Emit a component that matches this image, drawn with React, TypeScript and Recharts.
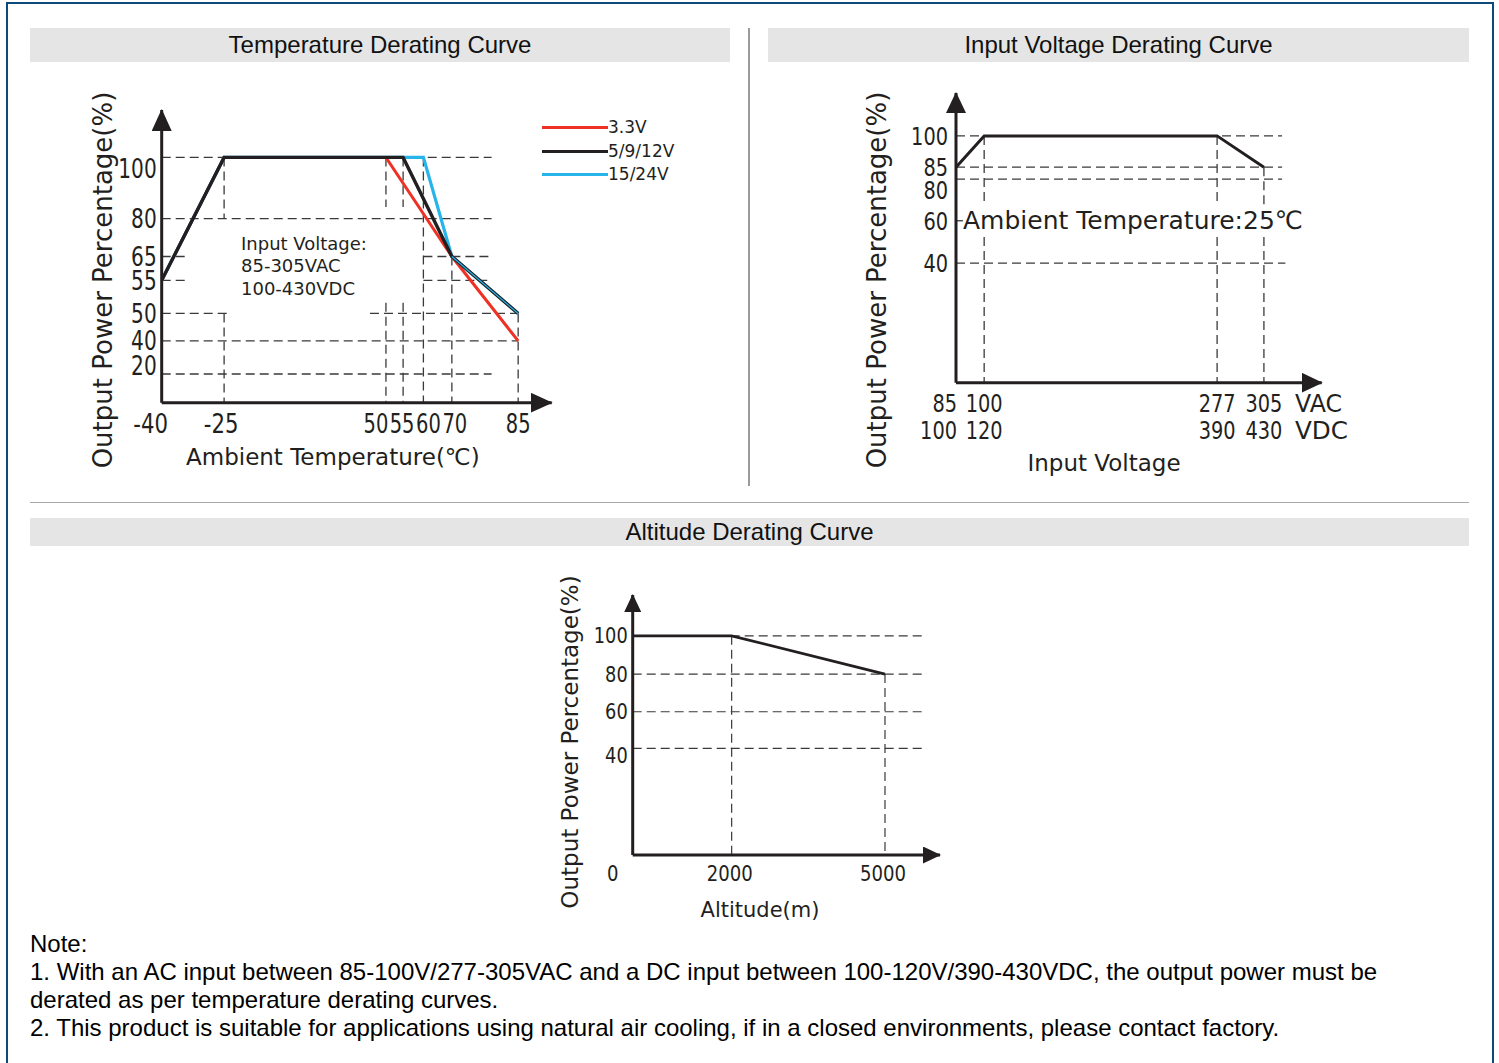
import React from 'react';
import { LineChart, Line, XAxis, YAxis, ReferenceLine, Legend } from 'recharts';

// ---------- temperature derating ----------
const tempTicksX = [-40, -25, 50, 55, 60, 70, 85];
const tempTicksY = [20, 40, 50, 55, 65, 80, 100];
const temp33V = [
  { t: -40, p: 55 },
  { t: -25, p: 100 },
  { t: 50, p: 100 },
  { t: 70, p: 65 },
  { t: 85, p: 40 },
];
const temp5912V = [
  { t: -40, p: 55 },
  { t: -25, p: 100 },
  { t: 55, p: 100 },
  { t: 70, p: 65 },
  { t: 85, p: 50 },
];
const temp1524V = [
  { t: -40, p: 55 },
  { t: -25, p: 100 },
  { t: 60, p: 100 },
  { t: 70, p: 65 },
  { t: 85, p: 50 },
];
// dashed guides, broken where the note text sits
const tempGuidesH = [
  { y: 100, spans: [[-40, 79]] },
  { y: 80, spans: [[-40, 79]] },
  { y: 65, spans: [[-40, -34], [60, 78.5]] },
  { y: 55, spans: [[-40, -34], [60, 78]] },
  { y: 50, spans: [[-40, -23.6], [42.6, 85]] },
  { y: 40, spans: [[-40, 85]] },
  { y: 20, spans: [[-40, 79]] },
];
const tempGuidesV = [
  { x: -25, spans: [[100, 80], [50, 0]] },
  { x: 50, spans: [[100, 83.8], [51.6, 0]] },
  { x: 55, spans: [[100, 83.8], [51.6, 0]] },
  { x: 60, spans: [[100, 0]] },
  { x: 70, spans: [[65, 0]] },
  { x: 85, spans: [[50, 0]] },
];
const tempNote = ['Input Voltage:', '85-305VAC', '100-430VDC'];

// ---------- input voltage derating ----------
const vacTicks = [85, 100, 277, 305];
const vdcTicks = [100, 120, 390, 430];
const voltTicksY = [40, 60, 80, 85, 100];
const voltCurve = [
  { v: 85, p: 85 },
  { v: 100, p: 100 },
  { v: 277, p: 100 },
  { v: 305, p: 85 },
];
const voltGuidesH = [
  { y: 100, spans: [[85, 316]] },
  { y: 85, spans: [[85, 316]] },
  { y: 80, spans: [[85, 316]] },
  { y: 60, spans: [[85, 88.7]] },
  { y: 40, spans: [[85, 318]] },
];
const voltGuidesV = [
  { x: 100, spans: [[100, 67.5], [52.3, 0]] },
  { x: 277, spans: [[100, 67.5], [52.3, 0]] },
  { x: 305, spans: [[85, 67.5], [52.3, 0]] },
];

// ---------- altitude derating ----------
const altTicksX = [0, 2000, 5000];
const altTicksY = [40, 60, 80, 100];
const altCurve = [
  { a: 0, p: 100 },
  { a: 2000, p: 100 },
  { a: 5000, p: 80 },
];
const altGuidesH = [
  { y: 100, spans: [[0, 5690]] },
  { y: 80, spans: [[0, 5690]] },
  { y: 60, spans: [[0, 5730]] },
  { y: 40, spans: [[0, 5730]] },
];
const altGuidesV = [
  { x: 2000, spans: [[100, 0]] },
  { x: 5000, spans: [[80, 0]] },
];

const notes = [
  'Note:',
  '1. With an AC input between 85-100V/277-305VAC and a DC input between 100-120V/390-430VDC, the output power must be',
  'derated as per temperature derating curves.',
  '2. This product is suitable for applications using natural air cooling, if in a closed environments, please contact factory.',
];

// ---------- styles ----------
const INK = '#231f20';
const RED = '#ee3124';
const CYAN = '#27b4ea';
const GUIDE = '#3a3a3a';
const FRAME = '#0d4a7c';
const SANS = "'Liberation Sans', Arial, sans-serif";
const GOTHIC = "'DejaVu Sans', 'Noto Sans', sans-serif";
const DASH = '9 5';

// the datasheet axes are schematic: each axis is a piecewise-linear scale
function knotScale(values: number[], stops: number[]) {
  let dom = [values[0], values[values.length - 1]];
  let rng = [0, 1];
  const frac = (v: number) => {
    const n = values.length;
    let i = 1;
    while (i < n - 1 && v > values[i]) i++;
    const t = (v - values[i - 1]) / (values[i] - values[i - 1]);
    return stops[i - 1] + t * (stops[i] - stops[i - 1]);
  };
  const scale: any = (v: number) => rng[0] + frac(Number(v)) * (rng[1] - rng[0]);
  scale.domain = (d?: number[]) => {
    if (!d) return dom.slice();
    dom = d.slice();
    return scale;
  };
  scale.range = (r?: number[]) => {
    if (!r) return rng.slice();
    rng = r.slice();
    return scale;
  };
  scale.rangeRound = (r: number[]) => scale.range(r);
  scale.copy = () => knotScale(values, stops).domain(dom).range(rng);
  scale.ticks = () => values.slice();
  scale.tickFormat = () => (v: number) => String(v);
  scale.clamp = () => scale;
  scale.nice = () => scale;
  scale.unknown = () => scale;
  return scale;
}

const tempScaleX = knotScale([-40, -25, 50, 55, 60, 70, 85, 95], [0, 0.16, 0.575, 0.619, 0.671, 0.744, 0.914, 1]);
const tempScaleY = knotScale([0, 20, 40, 50, 55, 65, 80, 100, 120], [0, 0.098, 0.211, 0.305, 0.418, 0.4995, 0.629, 0.838, 1]);
const voltScaleX = knotScale([85, 100, 277, 305, 340], [0, 0.077, 0.714, 0.842, 1]);
const voltScaleY = knotScale([0, 40, 60, 80, 85, 100, 120], [0, 0.413, 0.559, 0.703, 0.744, 0.852, 1]);
const altScaleX = knotScale([0, 2000, 5000, 6000], [0, 0.322, 0.821, 1]);
const altScaleY = knotScale([0, 40, 60, 80, 100, 120], [0, 0.41, 0.551, 0.696, 0.843, 1]);

const tempXNudge: Record<number, number> = { [-40]: -11, [-25]: -3, 50: -10, 55: -1, 60: 5, 70: 3 };
const tempYNudge: Record<number, number> = { 100: 11, 20: -8 };
const voltYNudge: Record<number, number> = { 80: 11 };
const altYNudge: Record<number, number> = { 40: 7 };

// the source uses a condensed face; squeeze the glyphs to its width
const squeeze = (s: string, digit: number) =>
  s.split('').reduce((w, c) => w + (c === '-' ? digit * 0.8 : digit), 0);

function Num({ x, y, value, size, digit, anchor = 'middle' }: any) {
  const s = String(value);
  return (
    <text
      x={x}
      y={y}
      dy="0.36em"
      textAnchor={anchor}
      fontSize={size}
      fontFamily={GOTHIC}
      fill={INK}
      textLength={squeeze(s, digit)}
      lengthAdjust="spacingAndGlyphs"
    >
      {s}
    </text>
  );
}

function Arrow({ id, len, wide }: { id: string; len: number; wide: number }) {
  return (
    <marker
      id={id}
      viewBox={`0 0 ${len} ${wide}`}
      refX={len - 1}
      refY={wide / 2}
      markerWidth={len}
      markerHeight={wide}
      markerUnits="userSpaceOnUse"
      orient="auto-start-reverse"
    >
      <path d={`M0,0 L${len},${wide / 2} L0,${wide} Z`} fill={INK} />
    </marker>
  );
}

function YTick({ x, y, payload, size, digit, gap, nudge }: any) {
  return <Num x={x - gap} y={y + (nudge[payload.value] ?? 0)} value={payload.value} size={size} digit={digit} anchor="end" />;
}

function TempXTick({ x, y, payload }: any) {
  return <Num x={x + (tempXNudge[payload.value] ?? 0)} y={y + 20.3} value={payload.value} size={27} digit={12.4} />;
}

function VoltXTick({ x, y, payload }: any) {
  const i = vacTicks.indexOf(payload.value);
  const first = i === 0;
  const tx = first ? x + 1 : x;
  const anchor = first ? 'end' : 'middle';
  return (
    <g>
      <Num x={tx} y={y + 20.3} value={vacTicks[i]} size={25} digit={12.3} anchor={anchor} />
      <Num x={tx} y={y + 47.3} value={vdcTicks[i]} size={25} digit={12.3} anchor={anchor} />
    </g>
  );
}

function AltXTick({ x, y, payload }: any) {
  return <Num x={x + (payload.value === 0 ? -20 : -2)} y={y + 18} value={payload.value} size={21} digit={11.5} />;
}

const tempLegend = [
  { name: '3.3V', color: RED },
  { name: '5/9/12V', color: INK },
  { name: '15/24V', color: CYAN },
];

function TempLegend() {
  return (
    <div>
      {tempLegend.map((s) => (
        <div key={s.name} style={{ display: 'flex', alignItems: 'center', height: 23.5 }}>
          <div style={{ width: 66, height: 3, background: s.color }} />
          <span style={{ fontFamily: GOTHIC, fontSize: 17, color: INK, lineHeight: '17px' }}>{s.name}</span>
        </div>
      ))}
    </div>
  );
}

const axisStyle = (marker: string) => ({ stroke: INK, strokeWidth: 3, markerEnd: `url(#${marker})` });
const yAxisStyle = (marker: string) => ({ stroke: INK, strokeWidth: 3, markerStart: `url(#${marker})` });

function guides(h: { y: number; spans: number[][] }[], v: { x: number; spans: number[][] }[], width: number) {
  const out: React.ReactNode[] = [];
  h.forEach((g) =>
    g.spans.forEach(([a, b]) =>
      out.push(
        <ReferenceLine key={`h${g.y}_${a}`} segment={[{ x: a, y: g.y }, { x: b, y: g.y }]} stroke={GUIDE} strokeWidth={width} strokeDasharray={DASH} />,
      ),
    ),
  );
  v.forEach((g) =>
    g.spans.forEach(([a, b]) =>
      out.push(
        <ReferenceLine key={`v${g.x}_${a}`} segment={[{ x: g.x, y: a }, { x: g.x, y: b }]} stroke={GUIDE} strokeWidth={width} strokeDasharray={DASH} />,
      ),
    ),
  );
  return out;
}

function TemperatureChart() {
  return (
    <div style={{ position: 'absolute', left: 60, top: 90 }}>
      <LineChart width={520} height={400} margin={{ top: 20, right: 28.3, bottom: 0, left: 0 }}>
        <defs>
          <Arrow id="arrT" len={22} wide={20} />
        </defs>
        <XAxis
          type="number"
          dataKey="t"
          scale={tempScaleX}
          domain={[-40, 95]}
          ticks={tempTicksX}
          interval={0}
          height={87.3}
          tickSize={0}
          tickMargin={0}
          tickLine={false}
          axisLine={axisStyle('arrT')}
          tick={(p: any) => <TempXTick {...p} />}
          allowDataOverflow
        />
        <YAxis
          type="number"
          dataKey="p"
          scale={tempScaleY}
          domain={[0, 120]}
          ticks={tempTicksY}
          interval={0}
          width={101.7}
          tickSize={0}
          tickMargin={0}
          tickLine={false}
          axisLine={yAxisStyle('arrT')}
          tick={(p: any) => <YTick {...p} size={26} digit={12.8} gap={5} nudge={tempYNudge} />}
          allowDataOverflow
        />
        {guides(tempGuidesH, tempGuidesV, 1.3)}
        <Line data={temp33V} dataKey="p" stroke={RED} strokeWidth={3} dot={false} isAnimationActive={false} legendType="none" />
        <Line data={temp1524V} dataKey="p" stroke={CYAN} strokeWidth={3.2} dot={false} isAnimationActive={false} legendType="none" />
        <Line data={temp5912V} dataKey="p" stroke={INK} strokeWidth={3.4} dot={false} isAnimationActive={false} legendType="none" />
        <Line data={temp1524V.filter((d) => d.t >= 70)} dataKey="p" stroke={CYAN} strokeWidth={1.2} dot={false} isAnimationActive={false} legendType="none" />
        <Legend layout="vertical" align="center" verticalAlign="middle" wrapperStyle={{ left: 482, top: 26, width: 150 }} content={() => <TempLegend />} />
        <text x={43} y={190} transform="rotate(-90 43 190)" textAnchor="middle" dominantBaseline="central" fontFamily={GOTHIC} fontSize={26} fill={INK}>
          Output Power Percentage(%)
        </text>
        <text x={126} y={367} dominantBaseline="central" fontFamily={GOTHIC} fontSize={23} fill={INK}>
          Ambient Temperature(℃)
        </text>
        {tempNote.map((s, i) => (
          <text key={s} x={181} y={[153, 175, 198][i]} dominantBaseline="central" fontFamily={GOTHIC} fontSize={18} fill={INK}>
            {s}
          </text>
        ))}
      </LineChart>
    </div>
  );
}

function VoltageChart() {
  return (
    <div style={{ position: 'absolute', left: 840, top: 80 }}>
      <LineChart width={560} height={420} margin={{ top: 13, right: 78.3, bottom: 0, left: 0 }}>
        <defs>
          <Arrow id="arrV" len={21} wide={20} />
        </defs>
        <XAxis
          type="number"
          dataKey="v"
          scale={voltScaleX}
          domain={[85, 340]}
          ticks={vacTicks}
          interval={0}
          height={117.3}
          tickSize={0}
          tickMargin={0}
          tickLine={false}
          axisLine={axisStyle('arrV')}
          tick={(p: any) => <VoltXTick {...p} />}
          allowDataOverflow
        />
        <YAxis
          type="number"
          dataKey="p"
          scale={voltScaleY}
          domain={[0, 120]}
          ticks={voltTicksY}
          interval={0}
          width={116}
          tickSize={0}
          tickMargin={0}
          tickLine={false}
          axisLine={yAxisStyle('arrV')}
          tick={(p: any) => <YTick {...p} size={25} digit={12.3} gap={8} nudge={voltYNudge} />}
          allowDataOverflow
        />
        {guides(voltGuidesH, voltGuidesV, 1.3)}
        <Line data={voltCurve} dataKey="p" stroke={INK} strokeWidth={3} dot={false} isAnimationActive={false} />
        <text x={37} y={200} transform="rotate(-90 37 200)" textAnchor="middle" dominantBaseline="central" fontFamily={GOTHIC} fontSize={26} fill={INK}>
          Output Power Percentage(%)
        </text>
        <text x={123} y={140} dominantBaseline="central" fontFamily={GOTHIC} fontSize={25} fill={INK}>
          Ambient Temperature:25℃
        </text>
        <text x={264} y={383} textAnchor="middle" dominantBaseline="central" fontFamily={GOTHIC} fontSize={23} fill={INK}>
          Input Voltage
        </text>
        <text x={455} y={323} dy="0.36em" fontFamily={GOTHIC} fontSize={25} fill={INK} textLength={47} lengthAdjust="spacingAndGlyphs">
          VAC
        </text>
        <text x={455} y={350} dy="0.36em" fontFamily={GOTHIC} fontSize={25} fill={INK} textLength={53} lengthAdjust="spacingAndGlyphs">
          VDC
        </text>
      </LineChart>
    </div>
  );
}

function AltitudeChart() {
  return (
    <div style={{ position: 'absolute', left: 540, top: 570 }}>
      <LineChart width={420} height={360} margin={{ top: 25, right: 20, bottom: 0, left: 0 }}>
        <defs>
          <Arrow id="arrA" len={18} wide={17} />
        </defs>
        <XAxis
          type="number"
          dataKey="a"
          scale={altScaleX}
          domain={[0, 6000]}
          ticks={altTicksX}
          interval={0}
          height={75}
          tickSize={0}
          tickMargin={0}
          tickLine={false}
          axisLine={axisStyle('arrA')}
          tick={(p: any) => <AltXTick {...p} />}
          allowDataOverflow
        />
        <YAxis
          type="number"
          dataKey="p"
          scale={altScaleY}
          domain={[0, 120]}
          ticks={altTicksY}
          interval={0}
          width={92.7}
          tickSize={0}
          tickMargin={0}
          tickLine={false}
          axisLine={yAxisStyle('arrA')}
          tick={(p: any) => <YTick {...p} size={21} digit={11.3} gap={5} nudge={altYNudge} />}
          allowDataOverflow
        />
        {guides(altGuidesH, altGuidesV, 1.2)}
        <Line data={altCurve} dataKey="p" stroke={INK} strokeWidth={2.8} dot={false} isAnimationActive={false} />
        <text x={30} y={172} transform="rotate(-90 30 172)" textAnchor="middle" dominantBaseline="central" fontFamily={GOTHIC} fontSize={23} fill={INK}>
          Output Power Percentage(%)
        </text>
        <text x={220} y={340} textAnchor="middle" dominantBaseline="central" fontFamily={GOTHIC} fontSize={21} fill={INK}>
          Altitude(m)
        </text>
      </LineChart>
    </div>
  );
}

const bar: React.CSSProperties = {
  position: 'absolute',
  background: '#e5e5e5',
  display: 'flex',
  alignItems: 'center',
  justifyContent: 'center',
  fontSize: 24,
  color: '#111',
};

export default function App() {
  return (
    <div style={{ position: 'absolute', left: 0, top: 0, width: 1499, height: 1063, overflow: 'hidden', background: '#fff', fontFamily: SANS }}>
      <div style={{ position: 'absolute', left: 6, top: 2, width: 1488, height: 1100, boxSizing: 'border-box', border: `2px solid ${FRAME}` }} />
      <div style={{ ...bar, left: 30, top: 28, width: 700, height: 34 }}>Temperature Derating Curve</div>
      <div style={{ ...bar, left: 768, top: 28, width: 701, height: 34 }}>Input Voltage Derating Curve</div>
      <div style={{ position: 'absolute', left: 748, top: 28, width: 1.5, height: 458, background: '#9a9a9a' }} />
      <div style={{ position: 'absolute', left: 30, top: 502, width: 1439, height: 1, background: '#a8a8a8' }} />
      <div style={{ ...bar, left: 30, top: 518, width: 1439, height: 28 }}>Altitude Derating Curve</div>
      <TemperatureChart />
      <VoltageChart />
      <AltitudeChart />
      <div style={{ position: 'absolute', left: 30, top: 930, fontSize: 24, lineHeight: '28px', color: '#000' }}>
        {notes.map((n) => (
          <div key={n} style={{ whiteSpace: 'nowrap' }}>
            {n}
          </div>
        ))}
      </div>
    </div>
  );
}
